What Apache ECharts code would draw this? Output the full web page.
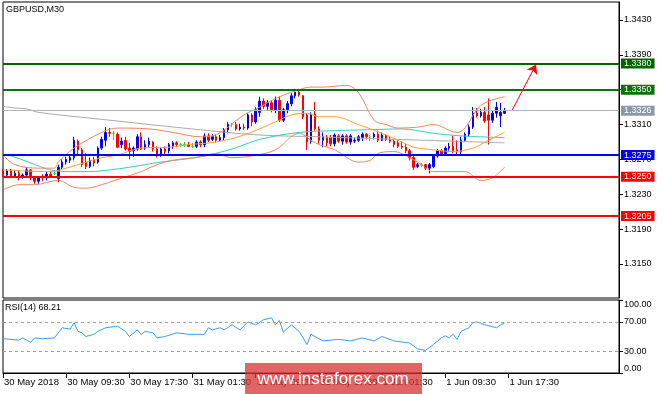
<!DOCTYPE html>
<html><head><meta charset="utf-8">
<script src="https://cdn.jsdelivr.net/npm/echarts@6/dist/echarts.min.js"></script>
<style>html,body{margin:0;padding:0;background:#fff}#c{width:665px;height:394px}</style>
</head><body><div id="c"></div>
<script>
const FONT = 'Liberation Sans';
const tickLabels = ['30 May 2018','30 May 09:30','30 May 17:30','31 May 01:30','31 May 09:30','31 May 17:30','1 Jun 01:30','1 Jun 09:30','1 Jun 17:30'];
const nCats = 157;
const categories = Array.from({length: nCats}, (_, i) => String(i));

const opens = [
1.3256,1.3252,1.3257,1.3251,1.3254,1.3250,1.3252,1.3258,1.3249,1.3245,
1.3250,1.3249,1.3253,1.3254,1.3248,1.3261,1.3267,1.3269,1.3272,1.3291,
1.3281,1.3267,1.3262,1.3269,1.3267,1.3283,1.3292,1.3301,1.3300,1.3299,
1.3287,1.3292,1.3283,1.3280,1.3282,1.3296,1.3283,1.3287,1.3290,1.3282,
1.3275,1.3282,1.3280,1.3285,1.3289,1.3287,1.3287,1.3287,1.3285,1.3285,
1.3290,1.3287,1.3297,1.3293,1.3296,1.3292,1.3295,1.3304,1.3310,1.3310,
1.3305,1.3307,1.3306,1.3321,1.3313,1.3324,1.3337,1.3331,1.3335,1.3327,
1.3338,1.3315,1.3327,1.3334,1.3343,1.3347,1.3343,1.3321,1.3291,1.3322,
1.3305,1.3292,1.3296,1.3295,1.3288,1.3297,1.3291,1.3297,1.3290,1.3291,
1.3292,1.3295,1.3299,1.3296,1.3296,1.3299,1.3292,1.3298,1.3293,1.3291,
1.3289,1.3285,1.3284,1.3280,1.3272,1.3262,1.3264,1.3264,1.3260,1.3262,
1.3274,1.3280,1.3276,1.3283,1.3285,1.3281,1.3279,1.3292,1.3299,1.3307,
1.3323,1.3320,1.3324,1.3321,1.3315,1.3323,1.3320,1.3323];
const closes = [
1.3252,1.3257,1.3251,1.3254,1.3250,1.3252,1.3258,1.3249,1.3245,1.3250,
1.3249,1.3253,1.3251,1.3254,1.3261,1.3267,1.3270,1.3272,1.3292,1.3281,
1.3264,1.3262,1.3269,1.3266,1.3283,1.3293,1.3301,1.3300,1.3300,1.3284,
1.3291,1.3282,1.3279,1.3283,1.3296,1.3282,1.3287,1.3291,1.3282,1.3275,
1.3282,1.3279,1.3287,1.3289,1.3287,1.3287,1.3287,1.3285,1.3285,1.3290,
1.3287,1.3297,1.3292,1.3296,1.3292,1.3295,1.3304,1.3310,1.3310,1.3305,
1.3307,1.3306,1.3321,1.3313,1.3327,1.3337,1.3331,1.3335,1.3327,1.3338,
1.3315,1.3327,1.3334,1.3343,1.3347,1.3344,1.3319,1.3290,1.3322,1.3305,
1.3292,1.3296,1.3289,1.3288,1.3298,1.3291,1.3297,1.3290,1.3297,1.3292,
1.3296,1.3299,1.3296,1.3296,1.3299,1.3292,1.3298,1.3293,1.3291,1.3287,
1.3285,1.3284,1.3280,1.3272,1.3261,1.3264,1.3264,1.3260,1.3264,1.3274,
1.3280,1.3276,1.3283,1.3285,1.3280,1.3279,1.3292,1.3299,1.3307,1.3323,
1.3320,1.3324,1.3314,1.3315,1.3323,1.3330,1.3324,1.3326];
const lows = [
1.3250,1.3250,1.3249,1.3249,1.3246,1.3248,1.3250,1.3246,1.3242,1.3242,
1.3245,1.3246,1.3249,1.3252,1.3244,1.3259,1.3264,1.3266,1.3269,1.3275,
1.3261,1.3259,1.3260,1.3262,1.3265,1.3281,1.3285,1.3296,1.3292,1.3283,
1.3283,1.3280,1.3270,1.3273,1.3280,1.3281,1.3281,1.3284,1.3279,1.3272,
1.3273,1.3276,1.3277,1.3282,1.3284,1.3284,1.3284,1.3284,1.3283,1.3283,
1.3284,1.3284,1.3290,1.3291,1.3290,1.3291,1.3292,1.3300,1.3307,1.3303,
1.3303,1.3304,1.3304,1.3308,1.3311,1.3319,1.3328,1.3327,1.3324,1.3323,
1.3313,1.3313,1.3323,1.3331,1.3340,1.3342,1.3316,1.3281,1.3288,1.3303,
1.3288,1.3284,1.3285,1.3285,1.3285,1.3289,1.3287,1.3288,1.3287,1.3289,
1.3290,1.3291,1.3293,1.3291,1.3293,1.3290,1.3291,1.3291,1.3289,1.3284,
1.3283,1.3282,1.3277,1.3269,1.3258,1.3260,1.3261,1.3258,1.3254,1.3260,
1.3272,1.3274,1.3274,1.3280,1.3277,1.3276,1.3276,1.3290,1.3296,1.3305,
1.3318,1.3318,1.3312,1.3287,1.3312,1.3318,1.3307,1.3322];
const highs = [
1.3259,1.3259,1.3259,1.3258,1.3257,1.3254,1.3261,1.3259,1.3251,1.3251,
1.3253,1.3256,1.3256,1.3257,1.3264,1.3270,1.3273,1.3274,1.3296,1.3293,
1.3283,1.3277,1.3272,1.3273,1.3285,1.3296,1.3307,1.3306,1.3303,1.3301,
1.3295,1.3296,1.3289,1.3285,1.3299,1.3301,1.3292,1.3295,1.3291,1.3285,
1.3284,1.3285,1.3289,1.3291,1.3291,1.3289,1.3290,1.3290,1.3289,1.3292,
1.3292,1.3300,1.3300,1.3299,1.3299,1.3298,1.3306,1.3313,1.3312,1.3313,
1.3311,1.3311,1.3323,1.3323,1.3330,1.3342,1.3340,1.3338,1.3338,1.3342,
1.3342,1.3329,1.3337,1.3346,1.3351,1.3351,1.3344,1.3323,1.3324,1.3336,
1.3308,1.3301,1.3298,1.3298,1.3300,1.3299,1.3299,1.3299,1.3299,1.3295,
1.3298,1.3301,1.3300,1.3298,1.3301,1.3303,1.3301,1.3299,1.3297,1.3293,
1.3292,1.3291,1.3288,1.3282,1.3274,1.3266,1.3266,1.3265,1.3266,1.3275,
1.3282,1.3282,1.3285,1.3289,1.3297,1.3292,1.3296,1.3301,1.3310,1.3330,
1.3329,1.3328,1.3330,1.3340,1.3326,1.3336,1.3335,1.3329];

const upperBand = [[0,1.3275],[3,1.3264],[9,1.3260],[13,1.3260],[14,1.3267],[18,1.3283],[25,1.3301],[29,1.3306],[37,1.3305],[43,1.3301],[50,1.3296],[53,1.3297],[61,1.3321],[65,1.3330],[69,1.3340],[75,1.3350],[78,1.3353],[81,1.3353],[87,1.3355],[90,1.3347],[94,1.3315],[97,1.3310],[100,1.3306],[105,1.3307],[109,1.3310],[115,1.3301],[117,1.3306],[121,1.3332],[127,1.3342]];
const lowerBand = [[0,1.3235],[4,1.3241],[8,1.3241],[14,1.3246],[18,1.3238],[21,1.3237],[25,1.3241],[31,1.3250],[35,1.3256],[39,1.3264],[43,1.3269],[50,1.3273],[54,1.3277],[56,1.3274],[58,1.3272],[63,1.3274],[69,1.3281],[75,1.3300],[78,1.3292],[80,1.3287],[84,1.3281],[90,1.3267],[93,1.3269],[95,1.3277],[99,1.3279],[103,1.3272],[106,1.3264],[109,1.3256],[117,1.3256],[121,1.3246],[124,1.3249],[127,1.3261]];
const orangeMA = [[0,1.3258],[12,1.3256],[16,1.3260],[25,1.3272],[29,1.3275],[35,1.3283],[42,1.3284],[47,1.3287],[54,1.3290],[61,1.3298],[69,1.3313],[73,1.3321],[77,1.3323],[80,1.3319],[84,1.3319],[90,1.3310],[96,1.3300],[100,1.3292],[104,1.3284],[109,1.3281],[114,1.3279],[119,1.3283],[123,1.3292],[127,1.3301]];
const cyanMA = [[0,1.3275],[2,1.3274],[7,1.3266],[12,1.3258],[17,1.3256],[22,1.3256],[27,1.3258],[32,1.3261],[40,1.3267],[50,1.3273],[58,1.3282],[65,1.3293],[75,1.3301],[84,1.3303],[92,1.3304],[101,1.3305],[109,1.3300],[116,1.3297],[127,1.3295]];
const grayMA = [[0,1.3331],[3,1.3329],[6,1.3328],[9,1.3324],[25,1.3316],[50,1.3304],[65,1.3298],[80,1.3296],[100,1.3293],[127,1.3289]];
const rsiValues = [[0,47],[4,45],[5,48],[7,42],[8,48],[10,47],[13,48],[14,55],[15,62],[17,60],[18,69],[19,57],[20,55],[21,50],[23,53],[24,57],[26,62],[29,64],[31,57],[32,50],[34,59],[35,53],[36,57],[38,55],[39,48],[41,50],[44,55],[47,53],[51,53],[52,62],[53,59],[55,62],[56,59],[58,66],[60,59],[62,70],[64,66],[66,73],[68,75.5],[69,66],[70,72],[71,56],[73,66],[75,57],[77,39],[78,53],[81,44],[85,46],[88,44],[91,48],[94,44],[96,50],[99,44],[103,41],[105,33],[107,31],[109,39],[111,48],[112,51],[113,48],[114,53],[115,46],[116,57],[118,62],[119,69],[120,70],[122,66],[125,62],[126,66],[127,68.21]];

const levelValues = [1.3380, 1.3350, 1.3275, 1.3250, 1.3205];
const levelColors = ['#006400', '#0a720a', '#0000ff', '#ff0000', '#ff0000'];
const bidPrice = 1.3326;
const priceTicks = [1.3150, 1.3190, 1.3230, 1.3270, 1.3310, 1.3350, 1.3390, 1.3430];
const rsiTicks = [0, 30, 70, 100];
const rsiLevels = [70, 30];
const arrowFrom = [129, 1.3327], arrowTo = [135, 1.3379];

const candleData = opens.map((o, i) => {
  const item = {value: [o, closes[i], lows[i], highs[i]]};
  if (o === closes[i]) {
    const g = '#2bd62b';
    item.itemStyle = {color: g, color0: g, borderColor: g, borderColor0: g, borderColorDoji: g};
  }
  return item;
});

const showTick = (i) => i % 16 === 0 && i / 16 < tickLabels.length;
const chart = echarts.init(document.getElementById('c'), null, {renderer: 'canvas'});

const boxLabel = (text, bg) => ({show: true, position: 'end', distance: 2, formatter: text, backgroundColor: bg,
  color: '#fff', padding: [1, 3, 0, 3], fontSize: 9, fontFamily: FONT});
const levelLines = [{yAxis: bidPrice, lineStyle: {color: '#aab6c2', width: 1, type: 'solid'}, label: boxLabel(bidPrice.toFixed(4), '#8a98a8')}]
  .concat(levelValues.map((v, k) => ({
    yAxis: v, lineStyle: {color: levelColors[k], width: 2, type: 'solid'}, label: boxLabel(v.toFixed(4), levelColors[k])
  })));

const lineSeries = (data, color) => ({
  type: 'line', xAxisIndex: 0, yAxisIndex: 0, data, smooth: 0.35, symbol: 'none', z: 3,
  lineStyle: {color, width: 1}, silent: true
});

chart.setOption({
  animation: false,
  backgroundColor: '#fff',
  grid: [
    {left: 3, right: 46, top: 2, height: 296, show: true, borderColor: '#000', borderWidth: 1},
    {left: 3, right: 46, top: 300, height: 73, show: true, borderColor: '#000', borderWidth: 1}
  ],
  xAxis: [
    {type: 'category', gridIndex: 0, data: categories, boundaryGap: false, show: false},
    {type: 'category', gridIndex: 1, data: categories, boundaryGap: false,
      axisLine: {lineStyle: {color: '#000'}},
      axisTick: {show: true, interval: showTick, length: 5, lineStyle: {color: '#000'}},
      axisLabel: {interval: showTick, formatter: (v) => { const i = +v; return showTick(i) ? tickLabels[i / 16] : ''; },
        align: 'left', margin: 4, fontSize: 9.5, color: '#000', fontFamily: FONT, padding: [0, 0, 0, 1]},
      splitLine: {show: false}}
  ],
  yAxis: [
    {type: 'value', gridIndex: 0, position: 'right', min: 1.311098, max: 1.345066, scale: true,
      axisLine: {show: true, lineStyle: {color: '#000'}},
      axisTick: {show: true, customValues: priceTicks, length: 4, lineStyle: {color: '#000'}},
      axisLabel: {customValues: priceTicks, formatter: (v) => v.toFixed(4), fontSize: 9, color: '#000', fontFamily: FONT, margin: 5},
      splitLine: {show: false}},
    {type: 'value', gridIndex: 1, position: 'right', min: 0, max: 100,
      axisLine: {show: true, lineStyle: {color: '#000'}},
      axisTick: {show: true, customValues: rsiTicks, length: 4, lineStyle: {color: '#000'}},
      axisLabel: {customValues: rsiTicks, formatter: (v) => v.toFixed(2), fontSize: 9, color: '#000', fontFamily: FONT, margin: 5,
        verticalAlignMinLabel: 'bottom', verticalAlignMaxLabel: 'top'},
      splitLine: {show: false}}
  ],
  series: [
    {type: 'candlestick', xAxisIndex: 0, yAxisIndex: 0, data: candleData, barWidth: 2, z: 2, silent: true,
      itemStyle: {color: '#0000ff', color0: '#ff0000', borderColor: '#0000ff', borderColor0: '#ff0000', borderWidth: 1}},
    lineSeries(grayMA, '#a9a9a9'),
    lineSeries(cyanMA, '#33cccc'),
    lineSeries(orangeMA, '#ffa033'),
    lineSeries(upperBand, '#f7845e'),
    lineSeries(lowerBand, '#f7845e'),
    {type: 'line', xAxisIndex: 0, yAxisIndex: 0, data: [], z: 4, silent: true,
      markLine: {silent: true, precision: 5, symbol: ['none', 'none'], animation: false, data: levelLines}},
    {type: 'line', xAxisIndex: 0, yAxisIndex: 0, data: [], z: 5, silent: true,
      markLine: {silent: true, precision: 5, symbol: ['none', 'arrow'], symbolSize: 9, animation: false,
        lineStyle: {color: '#ff0000', width: 1, type: 'solid'}, label: {show: false},
        data: [[{coord: arrowFrom}, {coord: arrowTo}]]}},
    {type: 'line', xAxisIndex: 1, yAxisIndex: 1, data: rsiValues, symbol: 'none', silent: true,
      lineStyle: {color: '#3d9cf5', width: 1},
      markLine: {silent: true, symbol: ['none', 'none'], label: {show: false},
        lineStyle: {color: '#a0a0a0', type: [3, 3], width: 1},
        data: rsiLevels.map(v => ({yAxis: v}))}}
  ],
  graphic: [
    {type: 'text', left: 6, top: 5, z: 50, style: {text: 'GBPUSD,M30', fontSize: 9, fill: '#000', fontFamily: FONT}},
    {type: 'text', left: 5, top: 303, z: 50, style: {text: 'RSI(14) 68.21', fontSize: 9, fill: '#000', fontFamily: FONT}},
    {type: 'rect', left: 245, top: 363, z: 100, shape: {width: 177, height: 31}, style: {fill: 'rgba(215,50,50,0.75)'}},
    {type: 'text', x: 333, y: 379, z: 101, style: {text: 'www.instaforex.com', fontSize: 17, fill: '#fff', fontFamily: FONT,
      align: 'center', verticalAlign: 'middle'}}
  ]
});
</script></body></html>
